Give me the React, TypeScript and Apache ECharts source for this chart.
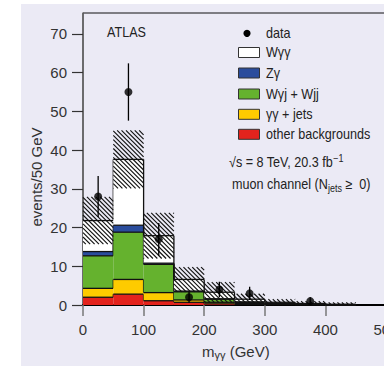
import React, { useEffect, useRef } from "react";
import * as echarts from "echarts";

// ---- data ----
const binEdges = [0, 50, 100, 150, 200, 250, 300, 350, 400, 450];
const otherBkg = [2.0, 2.8, 1.1, 0.7, 0.3, 0.15, 0.1, 0.05, 0];
const ggJets = [2.3, 3.8, 2.1, 0.6, 0.4, 0.25, 0.1, 0.05, 0];
const wgjWjj = [8.4, 12.2, 7.3, 2.1, 0.8, 0.3, 0.1, 0.05, 0.05];
const zg = [1.1, 1.8, 0.3, 0.2, 0.1, 0.1, 0.05, 0.05, 0];
const wgg = [8.0, 17.0, 7.1, 3.0, 1.7, 0.7, 0.35, 0.2, 0.15];
const totalUnc = [6.1, 7.5, 5.9, 3.2, 2.6, 1.4, 0.8, 0.6, 0.5];

const dataX = [25, 75, 125, 175, 225, 275, 375];
const dataY = [28, 55, 17, 2, 4, 3, 1];
const dataErr = [5.3, 7.4, 4.2, 1.4, 2.0, 1.7, 1.0];

const xTicks = [0, 100, 200, 300, 400, 500];
const yTicks = [0, 10, 20, 30, 40, 50, 60, 70];

const layerNames = ["other backgrounds", "γγ + jets", "Wγj + Wjj", "Zγ", "Wγγ"];
const layerColors = ["#e3231d", "#fecb00", "#65b22e", "#2a4c9c", "#ffffff"];
const layers = [otherBkg, ggJets, wgjWjj, zg, wgg];

// cumulative stack levels per bin: cum[k][i] for k = 0..5
const nBins = binEdges.length - 1;
const cum: number[][] = [new Array(nBins).fill(0)];
layers.forEach((arr, k) => {
  cum.push(arr.map((v, i) => cum[k][i] + v));
});
const totals = cum[cum.length - 1];

const FONT = "Liberation Sans, Arial, Helvetica, sans-serif";

export default function App() {
  const ref = useRef<HTMLDivElement>(null);
  useEffect(() => {
    if (!ref.current) return;
    const chart = echarts.init(ref.current, undefined, { renderer: "svg" });

    const binData = binEdges.slice(0, -1).map((e, i) => [e, binEdges[i + 1], totals[i]]);

    const stackSeries: any = {
      type: "custom",
      z: 2,
      encode: { x: [0, 1], y: [2] },
      data: binData,
      renderItem: (params: any, api: any) => {
        const i = params.dataIndex;
        const x0 = binEdges[i];
        const x1 = binEdges[i + 1];
        const children: any[] = [];
        for (let k = 0; k < layers.length; k++) {
          const pTop = api.coord([x0, cum[k + 1][i]]);
          const pBot = api.coord([x1, cum[k][i]]);
          children.push({
            type: "rect",
            shape: { x: pTop[0], y: pTop[1], width: pBot[0] - pTop[0], height: pBot[1] - pTop[1] },
            style: { fill: layerColors[k] },
          });
        }
        for (let k = 1; k <= layers.length; k++) {
          const a = api.coord([x0, cum[k][i]]);
          const b = api.coord([x1, cum[k][i]]);
          children.push({
            type: "line",
            shape: { x1: a[0], y1: a[1], x2: b[0], y2: b[1] },
            style: { stroke: "#111", lineWidth: 1.3 },
          });
          const next = i + 1 < nBins ? cum[k][i + 1] : 0;
          const c = api.coord([x1, next]);
          children.push({
            type: "line",
            shape: { x1: b[0], y1: b[1], x2: c[0], y2: c[1] },
            style: { stroke: "#111", lineWidth: 1.3 },
          });
        }
        return { type: "group", children };
      },
    };

    const hatchSeries: any = {
      type: "custom",
      z: 3,
      encode: { x: [0, 1], y: [2] },
      data: binData,
      renderItem: (params: any, api: any) => {
        const i = params.dataIndex;
        const lo = Math.max(0, totals[i] - totalUnc[i]);
        const hi = totals[i] + totalUnc[i];
        const pa = api.coord([binEdges[i], hi]);
        const pb = api.coord([binEdges[i + 1], lo]);
        const X0 = pa[0], Y0 = pa[1], X1 = pb[0], Y1 = pb[1];
        const step = 4.4;
        const children: any[] = [];
        const kMin = Math.floor((Y0 - X1) / step);
        const kMax = Math.ceil((Y1 - X0) / step);
        for (let k = kMin; k <= kMax; k++) {
          const c = k * step;
          const xa = Math.max(X0, Y0 - c);
          const xb = Math.min(X1, Y1 - c);
          if (xb > xa + 0.3) {
            children.push({
              type: "line",
              shape: { x1: xa, y1: xa + c, x2: xb, y2: xb + c },
              style: { stroke: "#111", lineWidth: 1.15 },
            });
          }
        }
        return { type: "group", children };
      },
    };

    const errSeries: any = {
      type: "custom",
      z: 4,
      encode: { x: 0, y: 1 },
      data: dataX.map((x, i) => [x, dataY[i], dataErr[i]]),
      renderItem: (params: any, api: any) => {
        const x = api.value(0);
        const y = api.value(1);
        const e = api.value(2);
        const a = api.coord([x, y + e]);
        const b = api.coord([x, Math.max(0, y - e)]);
        return {
          type: "line",
          shape: { x1: a[0], y1: a[1], x2: b[0], y2: b[1] },
          style: { stroke: "#000", lineWidth: 1.3 },
        };
      },
    };

    const scatterSeries: any = {
      type: "scatter",
      z: 5,
      symbol: "circle",
      symbolSize: 8,
      itemStyle: { color: "#000" },
      data: dataX.map((x, i) => [x, dataY[i]]),
    };

    const legendRowsY = [52.5, 73, 94, 114.3, 134.3];
    const legendOrder = [4, 3, 2, 1, 0];
    const legendGraphics: any[] = [
      { type: "circle", shape: { cx: 247, cy: 33.3, r: 3.6 }, style: { fill: "#000" } },
      {
        type: "text", x: 266, y: 33.3, scaleX: 0.9,
        style: { text: "data", fontSize: 14, fontFamily: FONT, fill: "#222", verticalAlign: "middle" },
      },
    ];
    legendOrder.forEach((k, r) => {
      legendGraphics.push({
        type: "rect",
        shape: { x: 238.5, y: legendRowsY[r] - 5, width: 21, height: 10 },
        style: { fill: layerColors[k], stroke: "#333", lineWidth: 1 },
      });
      legendGraphics.push({
        type: "text", x: 266, y: legendRowsY[r], scaleX: 0.9,
        style: { text: layerNames[k], fontSize: 14, fontFamily: FONT, fill: "#222", verticalAlign: "middle" },
      });
    });

    chart.setOption({
      animation: false,
      backgroundColor: "#ffffff",
      grid: {
        left: 83,
        top: 13,
        width: 303,
        height: 292,
        show: true,
        borderColor: "#111",
        borderWidth: 1,
        backgroundColor: "transparent",
      },
      xAxis: {
        type: "value",
        min: 0,
        max: 500,
        interval: 100,
        splitLine: { show: false },
        axisLine: { onZero: false, lineStyle: { color: "#000", width: 2 } },
        axisTick: { show: true, inside: false, length: 11, lineStyle: { color: "#777", width: 1.5 } },
        axisLabel: { fontSize: 15, fontFamily: FONT, color: "#333", margin: 17, customValues: xTicks },
      },
      yAxis: {
        type: "value",
        min: 0,
        max: 75.4,
        splitLine: { show: false },
        axisLine: { show: true, lineStyle: { color: "#666", width: 1.5 } },
        axisTick: { show: true, inside: false, length: 11, lineStyle: { color: "#333", width: 1.2 }, customValues: yTicks },
        axisLabel: { fontSize: 15, fontFamily: FONT, color: "#333", margin: 16, customValues: yTicks },
      },
      graphic: [
        {
          type: "rect", z: -10, silent: true,
          shape: { x: 21, y: 4, width: 420, height: 400 },
          style: { fill: "#ebeaf5" },
        },
        {
          type: "text", x: 107, y: 32, scaleX: 0.84, z: 10,
          style: { text: "ATLAS", fontSize: 15, fontFamily: FONT, fill: "#222", verticalAlign: "middle" },
        },
        ...legendGraphics.map((g) => ({ ...g, z: 10 })),
        {
          type: "text", x: 229, y: 162.7, scaleX: 0.9, z: 10,
          style: {
            text: "{a|√s = 8 TeV, 20.3 fb}{s|−1}",
            fontFamily: FONT, fill: "#222", verticalAlign: "middle",
            rich: {
              a: { fontSize: 14, fontFamily: FONT, fill: "#222" },
              s: { fontSize: 10, fontFamily: FONT, fill: "#222", verticalAlign: "top", padding: [0, 0, 8, 0] },
            },
          },
        },
        {
          type: "text", x: 232, y: 184, scaleX: 0.9, z: 10,
          style: {
            text: "{a|muon channel (N}{s|jets}{a| ≥  0)}",
            fontFamily: FONT, fill: "#222", verticalAlign: "middle",
            rich: {
              a: { fontSize: 14, fontFamily: FONT, fill: "#222" },
              s: { fontSize: 10, fontFamily: FONT, fill: "#222", padding: [8, 0, 0, 0] },
            },
          },
        },
        {
          type: "text", x: 36, y: 177, rotation: Math.PI / 2, z: 10,
          style: {
            text: "events/50 GeV", fontSize: 15, fontFamily: FONT, fill: "#333",
            align: "center", verticalAlign: "middle",
          },
        },
        {
          type: "text", x: 202, y: 351, z: 10,
          style: {
            text: "{a|m}{s|γγ}{a| (GeV)}",
            fontFamily: FONT, fill: "#333", verticalAlign: "middle",
            rich: {
              a: { fontSize: 15, fontFamily: FONT, fill: "#333" },
              s: { fontSize: 11, fontFamily: FONT, fill: "#333", padding: [8, 0, 0, 0] },
            },
          },
        },
      ],
      series: [stackSeries, hatchSeries, errSeries, scatterSeries],
    });

    return () => chart.dispose();
  }, []);

  return (
    <div style={{ position: "absolute", left: 0, top: 0, width: 384, height: 366, overflow: "hidden" }}>
      <div ref={ref} style={{ width: 420, height: 366 }} />
    </div>
  );
}
